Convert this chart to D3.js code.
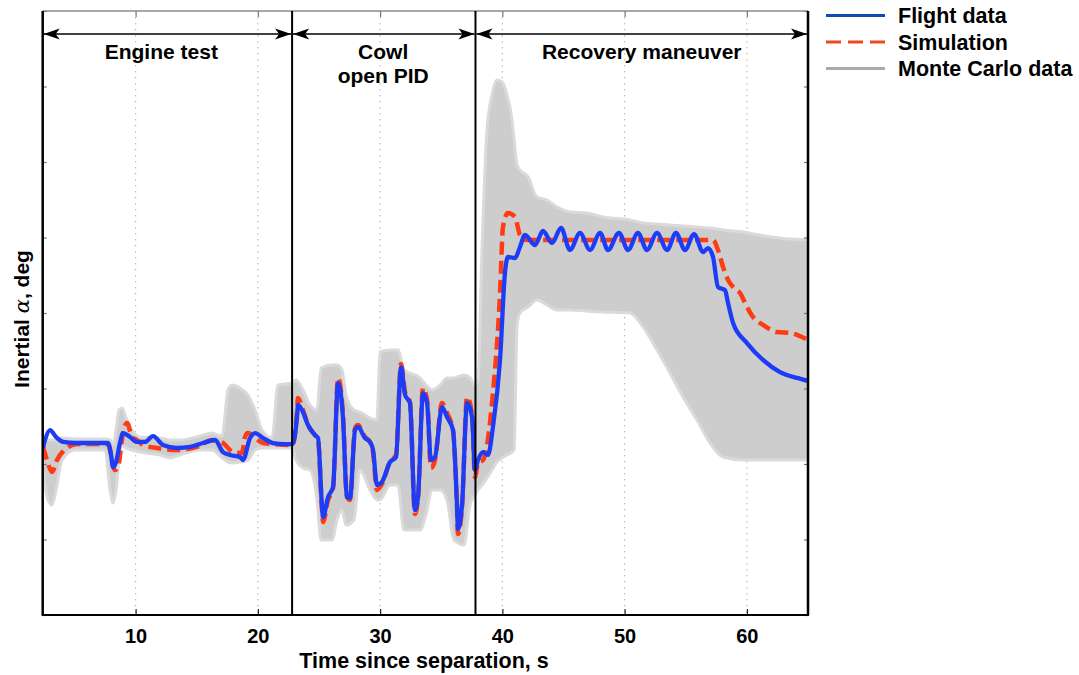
<!DOCTYPE html>
<html><head><meta charset="utf-8">
<script src="https://cdn.jsdelivr.net/npm/d3@7"></script>
<style>body{margin:0;background:#fff}svg{display:block}text{font-family:"Liberation Sans",Arial,sans-serif;font-weight:bold}</style>
</head><body><svg id="c" width="1079" height="675"></svg>
<script>
// ---------- data ----------
const xTicks = [10, 20, 30, 40, 50, 60];
const yTicks = [-20, -15, -10, -5, 0, 5, 10, 15, 20];
const phaseLabels = [["Engine test"], ["Cowl", "open PID"], ["Recovery maneuver"]];
const phaseStart = [2.4, 22.8, 37.8];
const phaseEnd = [22.8, 37.8, 65];
const phaseLabelT = [12.1, 30.25, 51.4];
const legendLabels = ["Flight data", "Simulation", "Monte Carlo data"];

const flightT = [2.42,2.59,3.00,3.49,4.06,5.04,7.74,7.99,8.15,8.40,8.72,8.97,9.54,10.11,10.77,11.42,12.24,13.39,14.45,15.51,16.49,17.15,17.72,18.54,18.78,19.36,19.77,20.42,21.24,22.22,22.82,23.20,23.28,23.69,24.10,24.67,24.92,25.25,25.33,25.74,26.15,26.56,26.96,27.29,27.54,27.95,28.19,28.76,29.17,29.42,29.74,30.15,30.81,31.30,31.71,32.04,32.44,32.85,33.10,33.51,33.84,34.16,34.49,35.06,35.47,35.96,36.29,36.37,36.70,37.11,37.52,37.76,38.01,38.42,38.82,39.23,39.81,40.21,40.46,41.03,41.44,41.85,42.67,43.32,44.06,44.80,45.53,46.35,47.17,47.99,48.64,49.54,50.28,51.09,51.83,52.65,53.47,54.20,54.94,55.68,56.41,56.82,57.23,57.64,58.21,58.46,58.87,60.01,61.32,62.71,64.10,65.00];
const flightA = [-8.94,-8.41,-7.75,-8.21,-8.54,-8.61,-8.61,-9.40,-10.20,-9.87,-8.61,-7.95,-8.21,-8.54,-8.54,-8.15,-8.74,-8.94,-8.87,-8.61,-8.41,-9.21,-9.40,-9.54,-9.74,-8.28,-7.95,-8.28,-8.61,-8.68,-8.68,-6.89,-6.09,-6.56,-7.42,-8.08,-8.28,-12.85,-13.51,-12.19,-11.52,-4.64,-6.89,-12.19,-12.25,-7.75,-7.55,-8.28,-8.54,-9.07,-11.39,-11.19,-9.87,-9.54,-3.58,-5.43,-5.96,-13.05,-12.19,-5.30,-5.96,-9.74,-9.54,-6.23,-6.89,-7.75,-12.72,-14.30,-12.72,-5.96,-6.89,-10.40,-9.74,-9.21,-9.40,-7.55,-3.11,2.65,3.71,3.64,4.37,5.17,4.50,5.43,4.64,5.63,4.17,5.30,4.17,5.30,4.17,5.30,4.17,5.30,4.17,5.30,4.17,5.30,4.17,5.23,4.04,4.30,3.71,1.72,1.52,0.66,-0.66,-1.99,-3.11,-3.91,-4.30,-4.50];

const simT = [2.43,2.75,3.16,3.57,4.39,5.21,7.74,8.31,8.56,8.97,9.30,9.71,10.11,10.60,11.75,13.39,15.02,16.25,17.15,17.97,18.70,18.95,19.19,19.77,20.42,22.82,23.20,23.28,23.69,24.10,24.67,24.92,25.25,25.33,25.74,26.15,26.56,26.96,27.29,27.54,27.95,28.19,28.76,29.17,29.42,29.74,30.15,30.81,31.30,31.71,32.04,32.44,32.85,33.10,33.51,33.84,34.16,34.49,35.06,35.47,35.96,36.29,36.37,36.70,37.11,37.52,37.76,38.01,38.42,39.23,39.81,40.05,40.46,41.03,41.44,42.01,57.23,57.64,58.05,58.46,58.87,59.44,60.01,60.50,61.32,62.46,63.53,65.00];
const simA = [-8.87,-9.74,-10.53,-9.74,-8.94,-8.68,-8.68,-10.40,-10.20,-7.95,-7.28,-8.21,-8.41,-8.74,-8.94,-9.07,-8.87,-8.41,-8.61,-9.21,-9.27,-8.21,-7.95,-8.28,-8.61,-8.74,-6.56,-5.63,-6.43,-7.42,-8.08,-8.41,-13.05,-13.84,-12.39,-11.59,-4.30,-6.75,-12.19,-12.39,-7.62,-7.42,-8.21,-8.54,-9.21,-11.72,-11.32,-9.87,-9.40,-3.38,-5.23,-5.89,-13.31,-12.25,-4.97,-5.76,-10.26,-9.74,-5.96,-6.62,-7.75,-12.85,-14.64,-12.85,-5.56,-6.75,-10.86,-9.93,-9.74,-5.30,1.32,5.70,6.62,6.36,5.17,4.83,4.83,4.17,3.05,2.19,1.72,1.32,0.40,-0.26,-0.79,-1.26,-1.32,-1.79];

const mcT = [2.42,2.83,3.16,3.49,3.98,5.04,7.50,7.91,8.15,8.40,8.64,8.89,9.21,9.70,10.36,12.00,12.81,13.63,15.27,16.25,17.07,17.56,17.89,18.54,19.19,19.77,20.34,21.16,21.65,22.79,23.12,23.69,24.26,24.84,25.17,26.07,26.47,26.88,27.21,27.86,28.35,29.17,29.74,29.99,30.81,31.46,31.95,33.26,33.75,34.24,34.90,35.47,36.04,36.86,37.35,37.76,38.01,38.33,38.74,39.15,39.56,39.97,40.38,40.79,40.96,41.20,41.44,42.10,42.83,43.65,44.47,45.53,46.92,48.23,50.44,51.51,52.65,53.71,54.78,55.92,56.99,58.05,59.69,61.90,65.00];
const mcUpper = [-8.28,-8.41,-8.41,-8.41,-8.28,-8.34,-8.34,-8.41,-8.74,-7.75,-6.42,-6.29,-6.95,-7.75,-8.21,-8.28,-8.41,-8.41,-8.15,-7.95,-8.15,-5.10,-4.77,-4.97,-5.43,-6.42,-7.75,-8.28,-4.77,-4.64,-4.44,-5.10,-6.09,-6.42,-3.64,-3.44,-3.44,-3.77,-5.43,-6.42,-6.56,-6.95,-7.09,-2.58,-2.45,-2.45,-3.77,-4.30,-4.77,-5.10,-4.77,-4.30,-4.30,-4.11,-4.30,-4.77,-4.44,4.17,12.12,14.44,15.43,15.30,14.44,12.78,11.46,9.80,9.47,9.01,7.68,7.48,7.02,6.69,6.62,6.36,6.16,5.96,5.89,5.83,5.76,5.70,5.63,5.50,5.36,5.03,4.83];
const mcLower = [-10.40,-12.38,-12.72,-11.72,-9.74,-9.07,-9.07,-11.72,-12.58,-11.72,-9.74,-8.74,-8.94,-9.07,-9.21,-9.40,-9.60,-9.40,-9.07,-9.07,-9.60,-9.87,-9.93,-9.87,-9.74,-9.07,-8.94,-8.94,-8.94,-8.94,-9.74,-10.26,-10.40,-12.38,-15.03,-15.03,-13.71,-13.05,-14.04,-13.71,-10.40,-11.72,-12.38,-12.38,-11.39,-11.39,-14.37,-14.37,-13.38,-11.72,-11.72,-12.38,-15.03,-15.36,-12.72,-12.05,-11.72,-11.39,-10.93,-10.40,-9.87,-9.60,-9.40,-9.21,-9.07,-0.79,0.00,0.40,0.86,0.53,0.20,0.20,0.13,0.07,0.00,-0.93,-2.45,-3.97,-5.56,-7.09,-8.61,-9.54,-9.74,-9.74,-9.74];

// ---------- drawing ----------
const svg = d3.select("#c");
svg.append("rect").attr("width",1079).attr("height",675).attr("fill","#fff");
const L = 42.7, R = 808, T = 11, B = 615;
const x = d3.scaleLinear().domain([2.4, 65]).range([L, R]);
const y = d3.scaleLinear().domain([-20, 20]).range([B, T]);

const defs = svg.append("defs");
defs.append("clipPath").attr("id","clip").append("rect").attr("x",L).attr("y",T).attr("width",R-L).attr("height",B-T);

// grid
svg.append("g").selectAll("line").data(xTicks).join("line")
  .attr("x1",d=>x(d)).attr("x2",d=>x(d)).attr("y1",T).attr("y2",B)
  .attr("stroke","#bdbdbd").attr("stroke-width",1.2).attr("stroke-dasharray","1.5,4.5");

const plot = svg.append("g").attr("clip-path","url(#clip)");

// Monte Carlo band
const mc = mcT.map((t,i)=>({t, u: mcUpper[i], l: mcLower[i]}));
plot.append("path").datum(mc)
  .attr("d", d3.area().x(d=>x(d.t)).y0(d=>y(d.l)).y1(d=>y(d.u)).curve(d3.curveMonotoneX))
  .attr("fill","#cdcdcd").attr("stroke","#dadada").attr("stroke-width",3).attr("stroke-linejoin","round");

const line = d3.line().x(d=>x(d[0])).y(d=>y(d[1])).curve(d3.curveMonotoneX);
plot.append("path").datum(simT.map((t,i)=>[t, simA[i]]))
  .attr("d", line).attr("fill","none").attr("stroke","#ff3b14").attr("stroke-width",4.5)
  .attr("stroke-dasharray","13,6").attr("stroke-linejoin","round");
plot.append("path").datum(flightT.map((t,i)=>[t, flightA[i]]))
  .attr("d", line).attr("fill","none").attr("stroke","#1e3cf5").attr("stroke-width",4.3)
  .attr("stroke-linejoin","round");

// axes ticks (inward, no labels for y)
const xb = d3.axisBottom(x).tickValues(xTicks).tickSizeInner(-6).tickSizeOuter(0).tickPadding(14);
const gx = svg.append("g").attr("transform",`translate(0,${B})`).call(xb);
gx.select(".domain").remove();
gx.selectAll("line").attr("stroke","#222").attr("stroke-width",1.2);
gx.selectAll("text").attr("font-size",20).attr("fill","#000").attr("font-family","Liberation Sans, Arial, sans-serif").attr("font-weight","bold");

const xt = d3.axisTop(x).tickValues(xTicks).tickSizeInner(-6).tickSizeOuter(0).tickFormat("");
const gxt = svg.append("g").attr("transform",`translate(0,${T})`).call(xt);
gxt.select(".domain").remove();
gxt.selectAll("line").attr("stroke","#777").attr("stroke-width",1.2);

const yl = d3.axisLeft(y).tickValues(yTicks).tickSizeInner(-4).tickSizeOuter(0).tickFormat("");
const gy = svg.append("g").attr("transform",`translate(${L},0)`).call(yl);
gy.select(".domain").remove();
gy.selectAll("line").attr("stroke","#777").attr("stroke-width",1.2);
const yr = d3.axisRight(y).tickValues(yTicks).tickSizeInner(-4).tickSizeOuter(0).tickFormat("");
const gyr = svg.append("g").attr("transform",`translate(${R},0)`).call(yr);
gyr.select(".domain").remove();
gyr.selectAll("line").attr("stroke","#777").attr("stroke-width",1.2);

// frame
svg.append("line").attr("x1",L).attr("x2",R).attr("y1",T).attr("y2",T).attr("stroke","#8a8a8a").attr("stroke-width",1.5);
svg.append("line").attr("x1",L).attr("x2",L).attr("y1",T).attr("y2",B).attr("stroke","#000").attr("stroke-width",2.5);
svg.append("line").attr("x1",R).attr("x2",R).attr("y1",T).attr("y2",B).attr("stroke","#000").attr("stroke-width",2.5);
svg.append("line").attr("x1",L-1).attr("x2",R+1).attr("y1",B).attr("y2",B).attr("stroke","#000").attr("stroke-width",2);

// phase boundaries
svg.append("g").selectAll("line").data(phaseStart.slice(1)).join("line")
  .attr("x1",d=>x(d)).attr("x2",d=>x(d)).attr("y1",T).attr("y2",B)
  .attr("stroke","#000").attr("stroke-width",2);

// arrows
const ay = 34;
function head(px, dir){ // dir: +1 pointing right, -1 pointing left
  const len = 16, hw = 5.5, notch = 4;
  return `M${px},${ay} L${px-dir*len},${ay-hw} L${px-dir*(len-notch)},${ay} L${px-dir*len},${ay+hw} Z`;
}
const ga = svg.append("g");
phaseStart.forEach((s,i)=>{
  const x0 = x(s)+1, x1 = x(phaseEnd[i])-1;
  ga.append("line").attr("x1",x0).attr("x2",x1).attr("y1",ay).attr("y2",ay).attr("stroke","#000").attr("stroke-width",1.6);
  ga.append("path").attr("d",head(x0,-1)).attr("fill","#000");
  ga.append("path").attr("d",head(x1,1)).attr("fill","#000");
  phaseLabels[i].forEach((txt,j)=>{
    ga.append("text").attr("x",x(phaseLabelT[i])).attr("y",59+j*24).attr("text-anchor","middle")
      .attr("font-size",21).attr("fill","#000").text(txt);
  });
});

// axis titles
svg.append("text").attr("x",424).attr("y",668).attr("text-anchor","middle").attr("font-size",21.5).text("Time since separation, s");
const yt = svg.append("text").attr("transform",`translate(29,${(T+B)/2+6}) rotate(-90)`).attr("text-anchor","middle").attr("font-size",21);
yt.append("tspan").text("Inertial ");
yt.append("tspan").attr("font-family","DejaVu Serif, serif").attr("font-style","italic").attr("font-weight","normal").text("α");
yt.append("tspan").text(", deg");

// legend
const legColors = ["#0b4db3","#ee4a1c","#aaaaaa"];
const legDash = [null,"15,7",null];
const lg = svg.append("g");
legendLabels.forEach((lab,i)=>{
  const ly = 15.5 + i*26.5;
  lg.append("line").attr("x1",826).attr("x2",885).attr("y1",ly).attr("y2",ly)
    .attr("stroke",legColors[i]).attr("stroke-width",3.2).attr("stroke-dasharray",legDash[i]);
  lg.append("text").attr("x",898).attr("y",ly+7.5).attr("font-size",21.5).attr("fill","#000").text(lab);
});
</script></body></html>
